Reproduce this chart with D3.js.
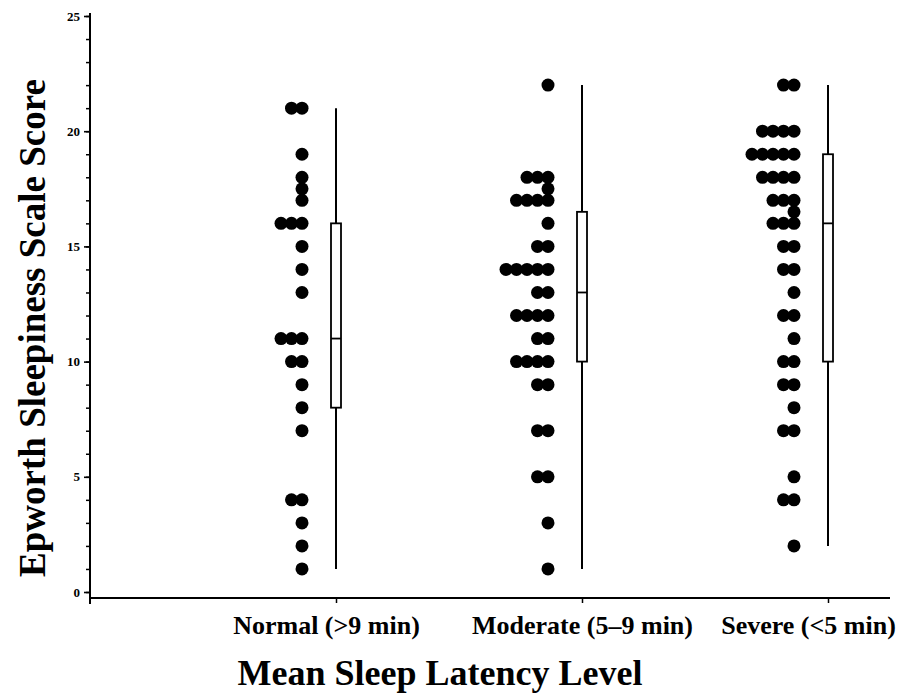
<!DOCTYPE html>
<html><head><meta charset="utf-8">
<script src="https://cdn.jsdelivr.net/npm/d3@7"></script>
<style>body{margin:0;background:#fff}svg{display:block}</style>
</head><body><svg id="c" width="903" height="696"></svg>
<script>
const categories = ["Normal (>9 min)", "Moderate (5–9 min)", "Severe (<5 min)"];
const normalScores = [21,21,19,18,17.5,17,16,16,16,15,14,13,11,11,11,10,10,9,8,7,4,4,3,2,1];
const moderateScores = [22,18,18,18,17.5,17,17,17,17,16,15,15,14,14,14,14,14,13,13,12,12,12,12,11,11,10,10,10,10,9,9,7,7,5,5,3,1];
const severeScores = [22,22,20,20,20,20,19,19,19,19,19,18,18,18,18,17,17,17,16.5,16,16,16,15,15,14,14,13,12,12,11,10,10,9,9,8,7,7,5,4,4,2];
const boxMin = [1, 1, 2];
const boxQ1 = [8, 10, 10];
const boxMedian = [11, 13, 16];
const boxQ3 = [16, 16.5, 19];
const boxMax = [21, 22, 22];
const yTicks = [0, 5, 10, 15, 20, 25];
const yMinorTicks = d3.range(0, 26, 1);

const groups = [normalScores, moderateScores, severeScores];
const svg = d3.select("#c");
const font = "'Liberation Serif', 'Times New Roman', serif";

const y = d3.scaleLinear().domain([0, 25]).range([592, 16]);
const x = d3.scalePoint().domain(categories).range([336, 828]);

const axisX0 = 90, axisX1 = 890, axisY = 598;

// Y axis
const yAxisG = svg.append("g").attr("transform", `translate(${axisX0},0)`);
yAxisG.call(d3.axisLeft(y).tickValues(yMinorTicks).tickSize(4).tickFormat(""))
  .call(g => g.select(".domain").remove())
  .call(g => g.selectAll(".tick line").attr("stroke", "#000").attr("stroke-width", 1.5));
const yMajor = svg.append("g").attr("transform", `translate(${axisX0},0)`);
yMajor.call(d3.axisLeft(y).tickValues(yTicks).tickSize(6).tickPadding(4).tickFormat(d3.format("d")))
  .call(g => g.select(".domain").remove())
  .call(g => g.selectAll(".tick line").attr("stroke", "#000").attr("stroke-width", 1.6))
  .call(g => g.selectAll(".tick text").attr("font-family", font).attr("font-weight", "bold")
     .attr("font-size", 13).attr("fill", "#000"));
svg.append("line").attr("x1", axisX0).attr("x2", axisX0).attr("y1", 13).attr("y2", 604)
  .attr("stroke", "#000").attr("stroke-width", 2);

// X axis
svg.append("line").attr("x1", axisX0).attr("x2", axisX1).attr("y1", axisY).attr("y2", axisY)
  .attr("stroke", "#000").attr("stroke-width", 2);
const labelShift = [-10, 0, -20];
const xAxisG = svg.append("g").attr("transform", `translate(0,${axisY})`);
xAxisG.call(d3.axisBottom(x).tickSize(5).tickPadding(13))
  .call(g => g.select(".domain").remove())
  .call(g => g.selectAll(".tick line").attr("stroke", "#000").attr("stroke-width", 1.5))
  .call(g => g.selectAll(".tick text").attr("font-family", font).attr("font-weight", "bold")
     .attr("font-size", 26).attr("fill", "#000")
     .attr("dx", (d, i) => labelShift[i]));

// Dots
const dotR = 6.5, dotStep = 10.5, dotOffset = -34;
groups.forEach((vals, gi) => {
  const counts = {};
  const pts = vals.map(v => {
    const k = counts[v] || 0; counts[v] = k + 1;
    return {v, k};
  });
  svg.append("g").selectAll("circle").data(pts).join("circle")
    .attr("cx", d => x(categories[gi]) + dotOffset - d.k * dotStep)
    .attr("cy", d => y(d.v))
    .attr("r", dotR)
    .attr("fill", "#000");
});

// Box plots
const boxW = 10;
categories.forEach((c, i) => {
  const cx = x(c);
  const g = svg.append("g");
  g.append("line").attr("x1", cx).attr("x2", cx).attr("y1", y(boxMax[i])).attr("y2", y(boxQ3[i]))
    .attr("stroke", "#000").attr("stroke-width", 2);
  g.append("line").attr("x1", cx).attr("x2", cx).attr("y1", y(boxQ1[i])).attr("y2", y(boxMin[i]))
    .attr("stroke", "#000").attr("stroke-width", 2);
  g.append("rect").attr("x", cx - boxW / 2).attr("width", boxW)
    .attr("y", y(boxQ3[i])).attr("height", y(boxQ1[i]) - y(boxQ3[i]))
    .attr("fill", "#fff").attr("stroke", "#000").attr("stroke-width", 1.8);
  g.append("line").attr("x1", cx - boxW / 2).attr("x2", cx + boxW / 2)
    .attr("y1", y(boxMedian[i])).attr("y2", y(boxMedian[i]))
    .attr("stroke", "#000").attr("stroke-width", 1.8);
});

// Titles
svg.append("text").attr("x", 440).attr("y", 685).attr("text-anchor", "middle")
  .attr("font-family", font).attr("font-weight", "bold").attr("font-size", 36)
  .text("Mean Sleep Latency Level");
svg.append("text").attr("transform", "translate(45,328) rotate(-90)").attr("text-anchor", "middle")
  .attr("font-family", font).attr("font-weight", "bold").attr("font-size", 37)
  .text("Epworth Sleepiness Scale Score");
</script></body></html>
